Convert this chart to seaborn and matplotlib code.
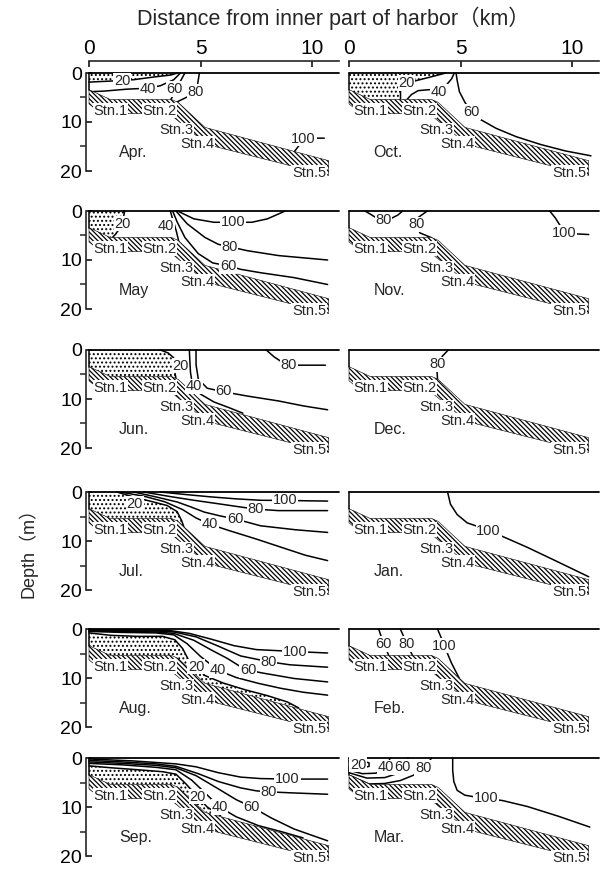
"""
Seasonal sections of dissolved oxygen saturation (%) along the harbor transect.
Twelve monthly panels, contour lines read off the original figure.
"""

import matplotlib
matplotlib.use("Agg")
import matplotlib.pyplot as plt
from matplotlib.patches import Polygon
from matplotlib import font_manager
import seaborn as sns

# sea bed profile (distance km, depth m) and lower edge of the hatched bottom
bed_x = [0.0, 0.95, 3.7, 4.0, 5.2, 10.75]
bed_d = [3.4, 5.4, 5.4, 6.0, 11.1, 17.9]
base_x = [0.0, 0.55, 3.6, 5.3, 10.75]
base_d = [6.3, 8.3, 8.3, 14.6, 20.9]

stations = ['Stn.1', 'Stn.2', 'Stn.3', 'Stn.4', 'Stn.5']
stn_x = [0.2, 2.4, 3.15, 4.1, 9.1]
stn_d = [7.7, 7.7, 11.7, 14.4, 20.4]

# contour lines: (level, distance, depth, label distance, label depth)
apr = [
    (20, [0.0, 0.95, 2.0, 2.9, 3.67, 3.97], [1.86, 1.65, 1.37, 0.82, 0.41, 0.0], 1.48, 1.55),
    (40, [0.12, 0.65, 1.7, 2.64, 3.2, 3.8, 4.1], [3.8, 3.7, 3.3, 3.1, 2.6, 1.37, 0.0], 2.64, 3.2),
    (60, [3.67, 3.8, 3.88, 4.12, 4.3], [5.4, 4.4, 3.3, 1.5, 0.0], 3.85, 3.3),
    (80, [3.95, 4.4, 4.8, 4.88, 4.95], [5.9, 4.9, 3.9, 2.0, 0.0], 4.8, 3.9),
    (100, [9.2, 9.45, 9.62, 10.1, 10.55], [16.1, 14.6, 13.4, 13.3, 13.3], 9.62, 13.4),
]
may = [
    (20, [1.6, 1.55, 1.45, 1.2, 1.05], [0.0, 1.2, 3.0, 4.7, 5.4], 1.5, 2.6),
    (40, [3.65, 3.72, 3.82, 3.92, 4.02], [0.0, 1.2, 2.6, 4.2, 6.1], 3.45, 3.0),
    (60, [3.75, 3.95, 4.3, 4.9, 5.55, 6.25, 6.8, 7.7, 9.2, 10.7],
     [0.0, 2.2, 5.4, 8.7, 10.6, 11.2, 11.9, 12.6, 13.6, 15.0], 6.25, 11.2),
    (80, [3.9, 4.4, 5.2, 5.8, 6.3, 7.1, 8.5, 10.7], [0.0, 2.6, 5.4, 6.8, 7.3, 8.1, 9.1, 10.0], 6.3, 7.3),
    (100, [3.97, 4.7, 5.6, 6.45, 7.3, 8.0, 8.8], [0.0, 1.6, 2.3, 2.3, 2.3, 1.6, 0.0], 6.45, 2.3),
]
jun = [
    (20, [3.2, 3.55, 3.8, 3.85, 3.85, 3.9], [0.0, 0.6, 1.6, 2.9, 4.5, 5.8], 4.1, 3.2),
    (40, [4.5, 4.52, 4.55, 4.65, 5.0, 5.6, 6.3, 6.9], [0.0, 2.0, 4.5, 7.4, 9.0, 10.6, 11.8, 12.9], 4.7, 7.4),
    (60, [4.8, 4.8, 4.9, 5.3, 6.0, 7.1, 8.5, 9.6, 10.7],
     [0.0, 3.0, 5.9, 7.8, 8.5, 9.4, 10.4, 11.4, 12.2], 6.05, 8.45),
    (80, [7.95, 8.3, 8.7, 8.95, 9.6, 10.6], [0.0, 1.4, 2.6, 3.1, 3.1, 3.1], 8.95, 3.1),
]
jul = [
    (20, [1.25, 1.9, 2.6, 3.5, 3.95, 4.15, 4.25], [0.0, 0.9, 1.7, 2.75, 4.0, 5.8, 7.06], 2.05, 2.4),
    (40, [1.4, 2.5, 3.4, 4.2, 4.8, 5.43, 6.3, 7.5, 8.7, 9.7, 10.7],
     [0.0, 0.9, 2.0, 3.6, 5.3, 6.6, 7.9, 9.6, 11.4, 12.9, 14.0], 5.43, 6.6),
    (60, [2.0, 3.0, 3.97, 4.6, 5.17, 5.9, 6.56, 7.7, 9.25, 10.7],
     [0.0, 1.0, 2.06, 3.1, 4.1, 4.9, 5.5, 6.9, 7.7, 8.25], 6.56, 5.5),
    (80, [2.45, 3.6, 4.72, 5.8, 6.7, 7.48, 8.5, 9.6, 10.7],
     [0.0, 0.9, 1.7, 2.4, 3.0, 3.5, 3.8, 3.8, 3.8], 7.48, 3.5),
    (100, [3.2, 4.3, 5.47, 6.6, 7.74, 8.8, 9.8, 10.7], [0.0, 0.5, 1.0, 1.4, 1.7, 1.7, 1.8, 1.85], 8.8, 1.7),
]
aug = [
    (20, [0.0, 1.0, 2.2, 3.3, 3.85, 4.2, 4.45, 4.8, 5.2, 6.0, 7.0, 8.0, 8.9, 9.4],
     [0.8, 1.3, 1.5, 1.5, 2.2, 4.0, 6.2, 7.7, 9.5, 11.0, 12.4, 13.6, 14.9, 16.1], 4.8, 7.7),
    (40, [0.0, 1.5, 3.0, 3.8, 4.4, 5.0, 5.78, 6.6, 7.6, 8.6, 9.6, 10.7],
     [0.5, 0.7, 0.8, 1.2, 3.0, 5.6, 8.4, 9.9, 11.1, 12.1, 12.9, 13.5], 5.78, 8.4),
    (60, [0.0, 1.5, 3.0, 3.8, 4.7, 5.45, 6.2, 6.8, 7.13, 7.8, 9.2, 10.7],
     [0.35, 0.5, 0.6, 0.9, 2.3, 4.2, 6.0, 7.7, 8.4, 9.0, 10.1, 10.8], 7.13, 8.4),
    (80, [0.0, 1.5, 3.0, 3.8, 4.8, 5.8, 6.8, 8.05, 9.0, 10.7],
     [0.25, 0.35, 0.4, 0.6, 1.6, 3.5, 5.5, 6.67, 7.3, 7.8], 8.05, 6.67),
    (100, [0.0, 2.0, 3.6, 4.5, 5.5, 6.5, 7.5, 9.25, 10.7],
     [0.1, 0.15, 0.3, 0.9, 2.1, 3.4, 4.2, 4.6, 4.9], 9.25, 4.6),
]
sep = [
    (20, [0.0, 1.0, 2.2, 3.3, 3.9, 4.35, 4.87, 5.3, 5.9],
     [1.6, 2.0, 2.4, 2.8, 3.3, 5.3, 7.9, 10.0, 11.8], 4.87, 7.9),
    (40, [0.0, 1.5, 3.0, 3.9, 4.6, 5.2, 5.85, 6.6, 7.6, 8.6, 9.6],
     [1.1, 1.4, 1.9, 2.4, 4.5, 7.1, 10.0, 12.0, 13.8, 15.0, 16.3], 5.85, 10.0),
    (60, [0.0, 1.5, 3.0, 3.9, 4.8, 5.8, 6.6, 7.3, 8.2, 9.2, 10.7],
     [0.8, 1.1, 1.5, 2.0, 3.6, 6.3, 8.5, 10.0, 12.3, 14.5, 16.9], 7.3, 10.0),
    (80, [0.0, 1.5, 3.0, 3.9, 4.9, 5.8, 6.8, 7.5, 8.05, 9.0, 10.7],
     [0.5, 0.8, 1.2, 1.7, 3.2, 4.8, 6.1, 6.7, 6.9, 7.1, 7.4], 8.05, 6.9),
    (100, [0.0, 2.0, 3.9, 4.8, 5.8, 6.8, 7.7, 8.9, 10.7],
     [0.2, 0.6, 1.2, 1.8, 3.0, 3.9, 4.2, 4.3, 4.3], 8.9, 4.3),
]
oct_ = [
    (20, [4.34, 3.67, 3.06, 2.58, 2.31, 2.31], [0.0, 0.8, 1.5, 2.06, 3.1, 5.4], 2.58, 2.06),
    (40, [4.72, 4.6, 4.3, 4.04, 3.6, 3.1, 2.8, 2.6], [0.0, 1.2, 2.8, 3.8, 3.4, 3.6, 4.4, 5.4], 4.04, 3.8),
    (60, [4.8, 4.85, 4.95, 5.2, 5.5, 5.9, 6.6, 7.5, 8.6, 9.7, 10.85],
     [0.0, 1.5, 3.8, 6.0, 8.0, 9.5, 11.3, 13.0, 14.6, 15.9, 16.9], 5.5, 8.0),
]
nov = [
    (80, [0.72, 1.05, 1.3, 1.55, 1.9, 2.2, 2.4], [0.0, 0.9, 1.6, 1.85, 1.5, 0.8, 0.0], 1.55, 1.85),
    (80, [3.51, 3.09, 3.02, 3.18, 3.7], [0.0, 1.37, 2.75, 4.47, 5.45], 3.02, 2.75),
    (100, [9.0, 9.25, 9.5, 9.65, 10.3, 10.75], [0.0, 1.4, 3.2, 4.5, 4.7, 4.8], 9.65, 4.5),
]
dec = [
    (80, [4.45, 4.2, 3.97, 3.95, 3.97], [0.0, 1.2, 2.95, 4.6, 5.9], 3.97, 2.95),
]
jan = [
    (100, [4.42, 4.55, 4.85, 5.3, 5.75, 6.26, 6.9, 8.0, 9.2, 10.75],
     [0.0, 2.5, 4.6, 6.3, 7.0, 7.9, 9.1, 11.3, 13.9, 17.3], 6.26, 7.9),
]
feb = [
    (60, [1.33, 1.45, 1.55, 1.7, 1.78], [0.0, 1.6, 3.1, 4.5, 5.4], 1.55, 3.1),
    (80, [2.3, 2.45, 2.6, 2.75, 2.85], [0.0, 1.5, 3.1, 4.5, 5.4], 2.6, 3.1),
    (100, [3.97, 4.1, 4.27, 4.6, 4.95], [0.0, 1.4, 3.4, 7.0, 10.1], 4.27, 3.4),
]
mar = [
    (20, [0.0, 0.55, 0.9, 0.9, 0.5, 0.0], [0.6, 0.5, 1.0, 1.7, 2.2, 2.1], 0.42, 1.37),
    (40, [0.0, 0.6, 1.2, 1.55, 1.66, 1.75, 1.85], [2.5, 3.2, 3.1, 2.5, 1.9, 1.0, 0.0], 1.66, 1.9),
    (60, [0.0, 0.8, 1.6, 2.15, 2.4, 2.55, 2.65], [3.0, 4.1, 4.0, 3.2, 2.1, 1.0, 0.0], 2.4, 1.8),
    (80, [0.05, 0.9, 1.6, 2.3, 2.9, 3.3, 3.55, 3.7], [3.6, 5.3, 5.2, 4.6, 3.5, 2.0, 1.0, 0.0], 3.33, 2.0),
    (100, [4.65, 4.65, 4.7, 4.85, 5.2, 5.6, 6.15, 6.9, 8.0, 9.4, 10.8],
     [0.0, 2.5, 4.8, 6.6, 7.6, 7.9, 8.2, 8.7, 9.9, 11.9, 14.1], 6.15, 8.2),
]

left_months = ['Apr.', 'May', 'Jun.', 'Jul.', 'Aug.', 'Sep.']
right_months = ['Oct.', 'Nov.', 'Dec.', 'Jan.', 'Feb.', 'Mar.']
left_panels = [apr, may, jun, jul, aug, sep]
right_panels = [oct_, nov, dec, jan, feb, mar]
# stippled (below 20 %) water: 'above' = between the 20 line and the surface,
# 'shore' = between the 20 line, the shore and the sea bed
left_stipple = ['above', 'shore', 'shore', 'shore', 'shore', 'shore']
right_stipple = ['shore', None, None, None, None, None]

x_ticks = [0, 5, 10]
depth_ticks = [0, 10, 20]

sns.set_theme(style='white')
names = {f.name for f in font_manager.fontManager.ttflist}
narrow = 'Liberation Sans Narrow' if 'Liberation Sans Narrow' in names else 'Liberation Sans'
plt.rcParams['font.family'] = ['Liberation Sans', 'Noto Sans CJK JP', 'DejaVu Sans']
plt.rcParams['hatch.linewidth'] = 0.9
plt.rcParams['hatch.color'] = 'black'

W, H = 600, 871
fig = plt.figure(figsize=(W / 100, H / 100), dpi=100)
fig.patch.set_facecolor('white')

col_left_px = [89, 349]
surface_px = [73, 211, 350, 492, 629, 758]
XMAX = 11.2
panel_w = XMAX * 22.3
panel_h = 98


def low_oxygen_polygon(xs, ds, mode):
    pts = list(zip(xs, ds))
    if mode == 'above':
        return pts + [(0.0, 0.0)]
    if xs[0] > 0:
        pts = [(0.0, 0.0)] + pts
    bed = [(bx, bd) for bx, bd in zip(bed_x, bed_d) if bx < xs[-1] - 1e-6]
    return pts + bed[::-1]


def draw_panel(ax, lines, month, stipple, col, row):
    ax.set_xlim(0, XMAX)
    ax.set_ylim(20, 0)
    ax.patch.set_visible(False)
    for s in ax.spines.values():
        s.set_visible(False)

    # low oxygen water
    if stipple:
        lev, xs, ds, _, _ = [c for c in lines if c[0] == 20][0]
        ax.add_patch(Polygon(low_oxygen_polygon(xs, ds, stipple), closed=True,
                             facecolor='none', edgecolor='black', lw=0,
                             hatch='....', zorder=1))

    for lev, xs, ds, lx, ld in lines:
        sns.lineplot(x=xs, y=ds, sort=False, estimator=None, color='black',
                     lw=1.1, ax=ax, legend=False, clip_on=False, zorder=2)
        ax.text(lx, ld, str(lev), ha='center', va='center', fontsize=10.5,
                bbox=dict(boxstyle='square,pad=0.05', fc='white', ec='none'),
                zorder=5)

    # hatched sea bed
    bottom = list(zip(bed_x, bed_d)) + list(zip(base_x, base_d))[::-1]
    ax.add_patch(Polygon(bottom, closed=True, facecolor='white', edgecolor='black',
                         lw=0.4, hatch='\\' * 7, zorder=3, clip_on=False))

    ax.plot([0, XMAX], [0, 0], color='black', lw=1.3, clip_on=False, zorder=4)
    ax.plot([0, 0], [0, bed_d[0]], color='black', lw=1.1, clip_on=False, zorder=4)

    for name, sx, sd in zip(stations, stn_x, stn_d):
        ax.text(sx, sd, name, ha='left', va='center', fontsize=10.5, family=narrow,
                bbox=dict(boxstyle='square,pad=0.05', fc='white', ec='none'),
                zorder=6)
    ax.text(1.35 if col == 0 else 1.1, 16.3, month, ha='left', va='center',
            fontsize=11.5, zorder=6)

    ax.set_xlabel('')
    ax.set_ylabel('')
    if row == 0:
        ax.spines['top'].set_visible(True)
        ax.spines['top'].set_position(('outward', 8.5))
        ax.spines['top'].set_linewidth(1.2)
        ax.xaxis.set_ticks_position('top')
        ax.set_xticks(x_ticks)
        ax.set_xticklabels([str(t) for t in x_ticks])
        ax.tick_params(axis='x', direction='in', length=4, width=1.1,
                       labelsize=15, pad=2, colors='black')
    else:
        ax.set_xticks([])
    if col == 0:
        ax.spines['left'].set_visible(True)
        ax.spines['left'].set_position(('outward', 2))
        ax.spines['left'].set_bounds(0, 20)
        ax.spines['left'].set_linewidth(1.2)
        ax.set_yticks(depth_ticks)
        ax.set_yticklabels([str(t) for t in depth_ticks])
        ax.set_yticks([5, 15], minor=True)
        ax.tick_params(axis='y', which='major', direction='in', length=4, width=1.1,
                       labelsize=14, pad=3, left=True, colors='black')
        ax.tick_params(axis='y', which='minor', direction='out', length=4, width=1.1,
                       left=True)
    else:
        ax.set_yticks([])


for col, (months, panels, stip) in enumerate([(left_months, left_panels, left_stipple),
                                              (right_months, right_panels, right_stipple)]):
    for row in range(6):
        top = surface_px[row]
        ax = fig.add_axes([col_left_px[col] / W, 1 - (top + panel_h) / H,
                           panel_w / W, panel_h / H])
        draw_panel(ax, panels[row], months[row], stip[row], col, row)

fig.text(333 / W, 1 - 18 / H, 'Distance from inner part of harbor（km）',
         ha='center', va='center', fontsize=15.5)
fig.text(28 / W, 1 - 548 / H, 'Depth（m）', rotation=90,
         ha='center', va='center', fontsize=13)

fig.savefig('out.png', dpi=100, facecolor='white')
